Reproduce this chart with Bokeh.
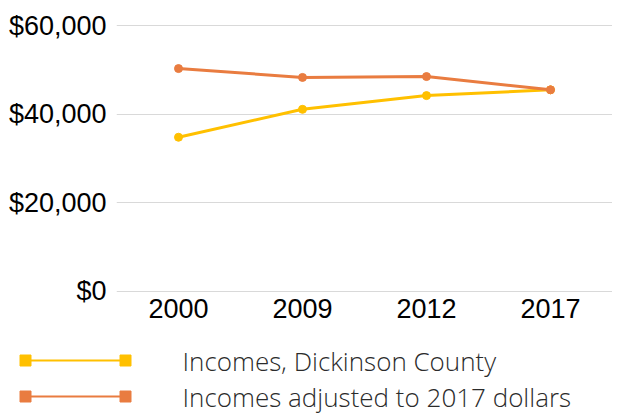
from bokeh.plotting import figure
from bokeh.models import Range1d, FactorRange, NumeralTickFormatter, FixedTicker, ColumnDataSource
from bokeh.layouts import column, row
from bokeh.core.properties import value
from bokeh.embed import file_html
from bokeh.resources import INLINE

years = ["2000", "2009", "2012", "2017"]
dickinson = [34800, 41100, 44200, 45500]
adjusted = [50300, 48300, 48500, 45500]
series_names = ["Incomes, Dickinson County", "Incomes  adjusted to 2017 dollars"]
y_ticks = [0, 20000, 40000, 60000]

YELLOW = "#FFC000"
ORANGE = "#E97C40"

p = figure(width=612, height=326, x_range=FactorRange(*years), y_range=Range1d(-250, 60250),
           output_backend="svg", toolbar_location=None,
           min_border_left=116, min_border_right=0, min_border_top=24, min_border_bottom=34)
p.outline_line_color = None
p.xgrid.grid_line_color = None
p.ygrid.grid_line_color = "#d9d9d9"
p.ygrid.grid_line_width = 1
p.yaxis.ticker = FixedTicker(ticks=y_ticks)
p.yaxis.formatter = NumeralTickFormatter(format="$0,0")
for ax in (p.xaxis[0], p.yaxis[0]):
    ax.axis_line_color = None
    ax.major_tick_line_color = None
    ax.minor_tick_line_color = None
    ax.major_label_text_font = "Liberation Sans"
    ax.major_label_text_font_size = "27px"
    ax.major_label_text_color = "#000000"
p.yaxis.major_label_standoff = 4
p.xaxis.major_label_standoff = 0

src = ColumnDataSource(dict(x=years, d=dickinson, a=adjusted))
p.line("x", "d", source=src, line_color=YELLOW, line_width=3)
p.scatter("x", "d", source=src, size=8, fill_color=YELLOW, line_color=YELLOW)
p.line("x", "a", source=src, line_color=ORANGE, line_width=3)
p.scatter("x", "a", source=src, size=8, fill_color=ORANGE, line_color=ORANGE)

# legend as a separate panel
leg = figure(width=612, height=88, x_range=Range1d(0, 612), y_range=Range1d(88, 0),
             output_backend="svg", toolbar_location=None,
             x_axis_location=None, y_axis_location=None,
             min_border=0, min_border_left=0, min_border_right=0, min_border_top=0, min_border_bottom=0)
leg.grid.visible = False
leg.outline_line_color = None
colors = [YELLOW, ORANGE]
ys = [34, 70]
for name, c, yy in zip(series_names, colors, ys):
    leg.line([25, 125], [yy, yy], line_color=c, line_width=2)
    leg.scatter([25, 125], [yy, yy], marker="square", size=11, fill_color=c, line_color=c)
leg.text(x=[182, 182], y=ys, text=series_names, text_font=value("Open Sans Light"),
         text_font_size="26px", text_baseline="middle", text_color="#2b2b2b")

layout = column(p, row(leg, spacing=0), spacing=0)
open("out.html", "w").write(file_html(layout, INLINE))
